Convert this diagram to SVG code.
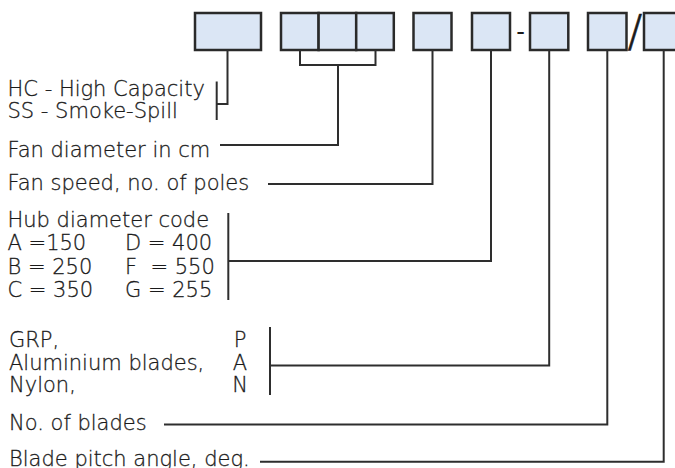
<svg xmlns="http://www.w3.org/2000/svg" width="675" height="468" viewBox="0 0 675 468">
<style>
.box{fill:#dbe6f5;stroke:#2a2a2a;stroke-width:2.5}
.ln{fill:none;stroke:#2e2e2e;stroke-width:2}
.t{font-family:"DejaVu Sans","Liberation Sans",sans-serif;font-weight:200;font-size:21px;fill:#1a1a1a;stroke:#1a1a1a;stroke-width:0.3;white-space:pre}
</style>
<rect width="675" height="468" fill="#ffffff"/>
<g id="box-type"><rect class="box" x="195" y="13" width="66" height="37"/></g>
<g id="box-diameter">
<rect class="box" x="281" y="13" width="37.6" height="37"/>
<rect class="box" x="318.6" y="13" width="37.6" height="37"/>
<rect class="box" x="356.2" y="13" width="37.6" height="37"/>
</g>
<g id="box-poles"><rect class="box" x="413.5" y="13" width="38" height="37"/></g>
<g id="box-hub"><rect class="box" x="472" y="13" width="38" height="37"/></g>
<text class="t" x="520.5" y="40" text-anchor="middle" style="font-size:24px;font-weight:400;stroke:none">-</text>
<g id="box-material"><rect class="box" x="530" y="13" width="38.3" height="37"/></g>
<g id="box-blades"><rect class="box" x="588" y="13" width="38.5" height="37"/></g>
<text class="t" x="635" y="46.5" text-anchor="middle" style="font-size:44px;stroke-width:0.6">/</text>
<g id="box-pitch"><rect class="box" x="644" y="13" width="39" height="37"/></g>

<g id="connectors">
<path class="ln" d="M227.5,50 V104 H216.7"/>
<path class="ln" d="M216.7,81.5 V120"/>
<path class="ln" d="M300,50 V65 H375.5 V50"/>
<path class="ln" d="M338,65 V145 H220"/>
<path class="ln" d="M432.5,50 V184 H268"/>
<path class="ln" d="M228.3,213 V300"/>
<path class="ln" d="M491,50 V261 H228.3"/>
<path class="ln" d="M270,327 V395"/>
<path class="ln" d="M549.2,50 V365.5 H270"/>
<path class="ln" d="M607.3,50 V424.5 H164"/>
<path class="ln" d="M663.7,50 V461.7 H260"/>
</g>

<g id="label-type">
<text class="t" x="7.5" y="96">HC - High Capacity</text>
<text class="t" x="7.5" y="118">SS - Smoke-Spill</text>
</g>
<g id="label-diameter"><text class="t" x="7.5" y="157">Fan diameter in cm</text></g>
<g id="label-poles"><text class="t" x="7.5" y="190">Fan speed, no. of poles</text></g>
<g id="label-hub">
<text class="t" x="7.5" y="226.5">Hub diameter code</text>
<text class="t" x="7.5" y="250">A =150</text>
<text class="t" x="125" y="250">D = 400</text>
<text class="t" x="7.5" y="273.5">B = 250</text>
<text class="t" x="125" y="273.5">F  = 550</text>
<text class="t" x="7.5" y="297">C = 350</text>
<text class="t" x="125" y="297">G = 255</text>
</g>
<g id="label-material">
<text class="t" x="9" y="346.5">GRP,</text>
<text class="t" x="9" y="369.5">Aluminium blades,</text>
<text class="t" x="9" y="392">Nylon,</text>
<text class="t" x="240" y="346.5" text-anchor="middle">P</text>
<text class="t" x="240" y="369.5" text-anchor="middle">A</text>
<text class="t" x="240" y="392" text-anchor="middle">N</text>
</g>
<g id="label-blades"><text class="t" x="9" y="429.5">No. of blades</text></g>
<g id="label-pitch"><text class="t" x="9" y="466">Blade pitch angle, deg.</text></g>
</svg>
